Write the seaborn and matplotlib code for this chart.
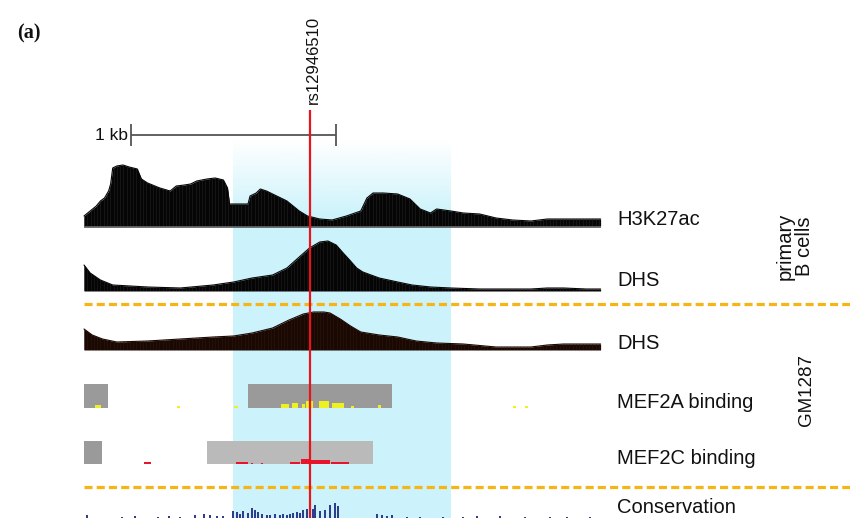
import numpy as np
import pandas as pd
import matplotlib
matplotlib.use('Agg')
import matplotlib.pyplot as plt
import seaborn as sns

sns.set_theme(style='white')
plt.rcParams['font.family'] = ['Liberation Sans', 'DejaVu Sans']
plt.rcParams['lines.scale_dashes'] = False

# ---- data (positions in kb from the left end of the window) ----
snp_name = 'rs12946510'
snp_pos = 1.10
region = (0.727, 1.790)        # highlighted enhancer region
window_end = 2.52

h3_pos = [0.00, 0.03, 0.06, 0.08, 0.10, 0.12, 0.13, 0.14, 0.16, 0.19, 0.22, 0.26, 0.28, 0.31,
          0.37, 0.42, 0.45, 0.49, 0.52, 0.55, 0.60, 0.64, 0.68, 0.70, 0.71, 0.80, 0.81, 0.84,
          0.86, 0.89, 0.94, 0.99, 1.05, 1.09, 1.15, 1.21, 1.28, 1.35, 1.38, 1.41, 1.46, 1.53,
          1.59, 1.64, 1.69, 1.72, 1.79, 1.85, 1.93, 2.01, 2.09, 2.18, 2.26, 2.34, 2.42, 2.52]
h3_val = [10, 15, 20, 25, 28, 35, 42, 58, 60, 61, 59, 57, 47, 43,
          38, 35, 40, 41, 42, 45, 47, 48, 46, 38, 22, 22, 30, 33,
          37, 35, 30, 25, 15, 10, 7, 6, 10, 15, 28, 33, 33, 32,
          27, 17, 13, 17, 15, 13, 12, 8, 6, 5, 7, 7, 7, 7]

dhs_b_pos = [0.00, 0.03, 0.08, 0.14, 0.31, 0.47, 0.63, 0.73, 0.82, 0.92, 0.99, 1.05, 1.10, 1.15,
             1.19, 1.23, 1.26, 1.30, 1.33, 1.36, 1.40, 1.44, 1.53, 1.60, 1.69, 1.79, 1.93, 2.18,
             2.26, 2.34, 2.45, 2.52]
dhs_b_val = [26, 18, 11, 6, 4, 3, 6, 9, 13, 16, 23, 34, 43, 49,
             50, 46, 39, 30, 23, 19, 16, 13, 9, 6, 4, 3, 2, 2,
             3, 3, 2, 2]

dhs_gm_pos = [0.00, 0.04, 0.09, 0.16, 0.31, 0.47, 0.63, 0.73, 0.82, 0.92, 1.00, 1.07, 1.12, 1.17,
              1.20, 1.25, 1.30, 1.35, 1.44, 1.53, 1.62, 1.72, 1.85, 2.01, 2.18, 2.26, 2.34, 2.48, 2.52]
dhs_gm_val = [21, 15, 11, 8, 9, 11, 13, 14, 17, 22, 30, 36, 38, 38,
              37, 31, 24, 18, 15, 13, 9, 7, 6, 3, 3, 5, 6, 6, 6]

# ChIP-seq peak calls (start, end) and read pileups (centre, width, height)
mef2a_peaks = [(0.00, 0.117), (0.80, 1.50)]
mef2a_sig_pos = [0.07, 0.46, 0.74, 0.98, 1.03, 1.07, 1.10, 1.17, 1.24, 1.31, 1.44, 2.10, 2.16]
mef2a_sig_w = [0.03, 0.015, 0.02, 0.04, 0.03, 0.015, 0.03, 0.05, 0.06, 0.015, 0.015, 0.015, 0.015]
mef2a_sig_h = [3, 2, 2, 4, 5, 4, 7, 7, 5, 2, 3, 2, 2]

mef2c_peaks = [(0.00, 0.09), (0.60, 1.41)]
mef2c_sig_pos = [0.31, 0.77, 0.82, 0.87, 1.03, 1.08, 1.15, 1.25]
mef2c_sig_w = [0.03, 0.06, 0.01, 0.01, 0.05, 0.04, 0.10, 0.09]
mef2c_sig_h = [2, 2, 1, 1, 2, 5, 4, 2]

cons_pos = [0.015, 0.185, 0.249, 0.361, 0.415, 0.468, 0.541, 0.585, 0.615, 0.649, 0.678,
            0.727, 0.746, 0.760, 0.776, 0.800, 0.820, 0.834, 0.849, 0.868, 0.893, 0.907,
            0.932, 0.956, 0.971, 0.990, 1.005, 1.020, 1.039, 1.054, 1.068, 1.088, 1.102,
            1.117, 1.127, 1.151, 1.176, 1.200, 1.224, 1.239, 1.429, 1.454, 1.478, 1.502,
            1.576, 1.639, 1.751, 1.849, 1.917, 2.029, 2.151, 2.273, 2.356, 2.468]
cons_val = [3, 1, 2, 1, 2, 1, 3, 4, 3, 2, 2,
            7, 6, 4, 7, 5, 10, 8, 6, 4, 3, 3,
            4, 3, 4, 3, 4, 5, 6, 5, 8, 9, 9,
            9, 13, 7, 8, 13, 15, 12, 4, 3, 2, 3,
            1, 1, 1, 1, 2, 2, 1, 1, 1, 1]

track_labels = ['H3K27ac', 'DHS', 'DHS', 'MEF2A binding', 'MEF2C binding']
cons_label = 'Conservation'

# ---- layout (pixel rows, kb columns) ----
W, H = 850, 518
x0_px, kb_px = 84, 205.0


def kb(px):
    return (px - x0_px) / kb_px


fig = plt.figure(figsize=(W / 100, H / 100), dpi=100)
ax = fig.add_axes([0, 0, 1, 1])
ax.set_xlim(kb(0), kb(W))
ax.set_ylim(H, 0)
ax.axis('off')

# highlighted region, fading in at the top
blue = np.array([204, 243, 251]) / 255.0
ys = np.linspace(140, H, 200)
alpha = np.clip((ys - 140) / 75.0, 0, 1)
img = np.zeros((len(ys), 2, 4))
img[:, :, :3] = blue
img[:, :, 3] = alpha[:, None]
ax.imshow(img, extent=(region[0], region[1], H, 140), aspect='auto', zorder=0,
          interpolation='bilinear')


def stripes(poly, top, bottom, color):
    xs = np.arange(0, window_end, 0.016)
    vl = ax.vlines(xs, top, bottom, colors=color, lw=0.4, zorder=3)
    vl.set_clip_path(poly.get_paths()[0], ax.transData)


def profile(pos, val, base, color, stripe):
    y = base - np.array(val, dtype=float)
    poly = ax.fill_between(pos, y, base, color=color, lw=0, zorder=2)
    d = pd.DataFrame({'pos': pos, 'y': y})
    sns.lineplot(data=d, x='pos', y='y', ax=ax, color=color, lw=0.8,
                 estimator=None, zorder=2)
    stripes(poly, base - 70, base, stripe)


profile(h3_pos, h3_val, 226, '#050505', '#222222')
ax.hlines(226.5, 0, window_end, colors='#555555', lw=1.2, zorder=2)
profile(dhs_b_pos, dhs_b_val, 291, '#050505', '#1f1f1f')
profile(dhs_gm_pos, dhs_gm_val, 350, '#1a0802', '#2c170e')


def binding(peaks, colors, top, bottom, sig_pos, sig_w, sig_h, sig_color):
    for (s, e), c in zip(peaks, colors):
        ax.fill_between([s, e], top, bottom, color=c, lw=0, zorder=2)
    ax.bar(sig_pos, sig_h, width=sig_w, bottom=[bottom - h for h in sig_h],
           color=sig_color, lw=0, zorder=3)


binding(mef2a_peaks, ['#9a9a9a', '#9a9a9a'], 384, 408,
        mef2a_sig_pos, mef2a_sig_w, mef2a_sig_h, '#eef020')
binding(mef2c_peaks, ['#9a9a9a', '#bababa'], 441, 464,
        mef2c_sig_pos, mef2c_sig_w, mef2c_sig_h, '#e8142c')

# conservation
ax.bar(cons_pos, cons_val, width=0.009, bottom=[H - v for v in cons_val],
       color='#303c8c', lw=0, zorder=3)

# cell type separators
for yy in (304, 487):
    ax.hlines(yy, 0, kb(W), colors='#f5b514', lw=2.3,
              linestyles=(0, (5.8, 3.0)), zorder=4)

# SNP line
ax.vlines(snp_pos, 110, H, colors='#e8141c', lw=1.6, zorder=5)
ax.text(kb(313), 104, snp_name, rotation=90, ha='center', va='bottom',
        fontsize=12, color='#111111')

# scale bar (1 kb)
sb_y = 135
ax.hlines(sb_y, kb(131), kb(131) + 1.0, colors='#555555', lw=1.3)
ax.vlines([kb(131), kb(131) + 1.0], sb_y - 11, sb_y + 11, colors='#555555', lw=1.3)
ax.text(kb(128), sb_y + 1, '1 kb', ha='right', va='center', fontsize=12.5, color='#111111')

# track labels
for lab, yb in zip(track_labels, [225, 286, 349, 408, 464]):
    ax.text(kb(617), yb, lab, ha='left', va='baseline', fontsize=14.5, color='#111111')
ax.text(kb(617), 517, cons_label, ha='left', va='bottom', fontsize=14.5, color='#111111')

ax.text(kb(795), 246, 'primary\nB cells', rotation=90, ha='center', va='center',
        multialignment='center', linespacing=1.0, fontsize=14.5, color='#111111')
ax.text(kb(806), 390, 'GM1287', rotation=90, ha='center', va='center',
        fontsize=13.5, color='#111111')

ax.text(kb(17), 33, '(a)', ha='left', va='center', fontsize=14.5, fontweight='bold',
        family=['Liberation Serif', 'DejaVu Serif'], color='#111111')

fig.savefig('out.png', dpi=100)
